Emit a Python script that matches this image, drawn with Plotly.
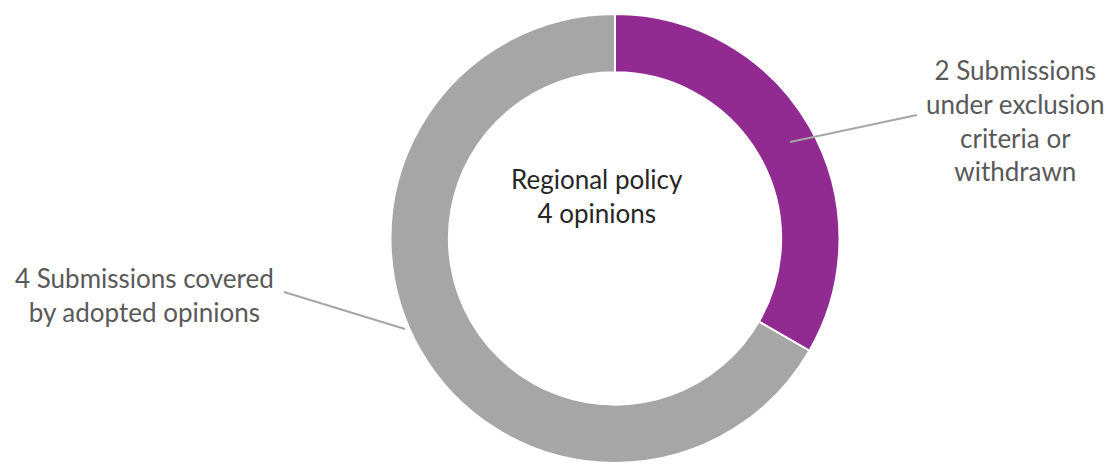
import plotly.graph_objects as go

# Submissions by outcome
categories = ["Submissions under exclusion criteria or withdrawn",
              "Submissions covered by adopted opinions"]
counts = [2, 4]
colors = ["#912A91", "#A6A6A6"]

W, H = 1111, 468
cx, cy, r = 615, 238.5, 224.5


def px(x):
    return x / W


def py(y):
    return 1 - y / H


fig = go.Figure(go.Pie(
    labels=categories,
    values=counts,
    marker=dict(colors=colors, line=dict(color="white", width=2)),
    hole=0.74,
    sort=False,
    direction="clockwise",
    rotation=0,
    textinfo="none",
    hoverinfo="label+value",
    showlegend=False,
    domain=dict(x=[px(cx - r), px(cx + r)], y=[py(cy + r), py(cy - r)]),
))

label_font = dict(family="Lato, Open Sans, sans-serif", size=26, color="#595959")

fig.update_layout(
    width=W, height=H,
    margin=dict(l=0, r=0, t=0, b=0),
    paper_bgcolor="white",
    plot_bgcolor="white",
    annotations=[
        dict(text="Regional policy<br>4 opinions", x=px(597), y=py(196),
             xref="paper", yref="paper", showarrow=False,
             font=dict(family="Lato, Open Sans, sans-serif", size=26, color="#262626"),
             align="center", xanchor="center", yanchor="middle"),
        dict(text=f"{counts[1]} Submissions covered<br>by adopted opinions",
             x=px(144), y=py(295), xref="paper", yref="paper", showarrow=False,
             font=label_font, align="center", xanchor="center", yanchor="middle"),
        dict(text=f"{counts[0]} Submissions<br>under exclusion<br>criteria or<br>withdrawn",
             x=px(1015), y=py(121), xref="paper", yref="paper", showarrow=False,
             font=label_font, align="center", xanchor="center", yanchor="middle"),
    ],
    shapes=[
        dict(type="line", xref="paper", yref="paper",
             x0=px(284), y0=py(292), x1=px(405), y1=py(329),
             line=dict(color="#A6A6A6", width=2)),
        dict(type="line", xref="paper", yref="paper",
             x0=px(790), y0=py(142), x1=px(917), y1=py(115),
             line=dict(color="#A6A6A6", width=2)),
    ],
)

fig.write_html("out.html")
